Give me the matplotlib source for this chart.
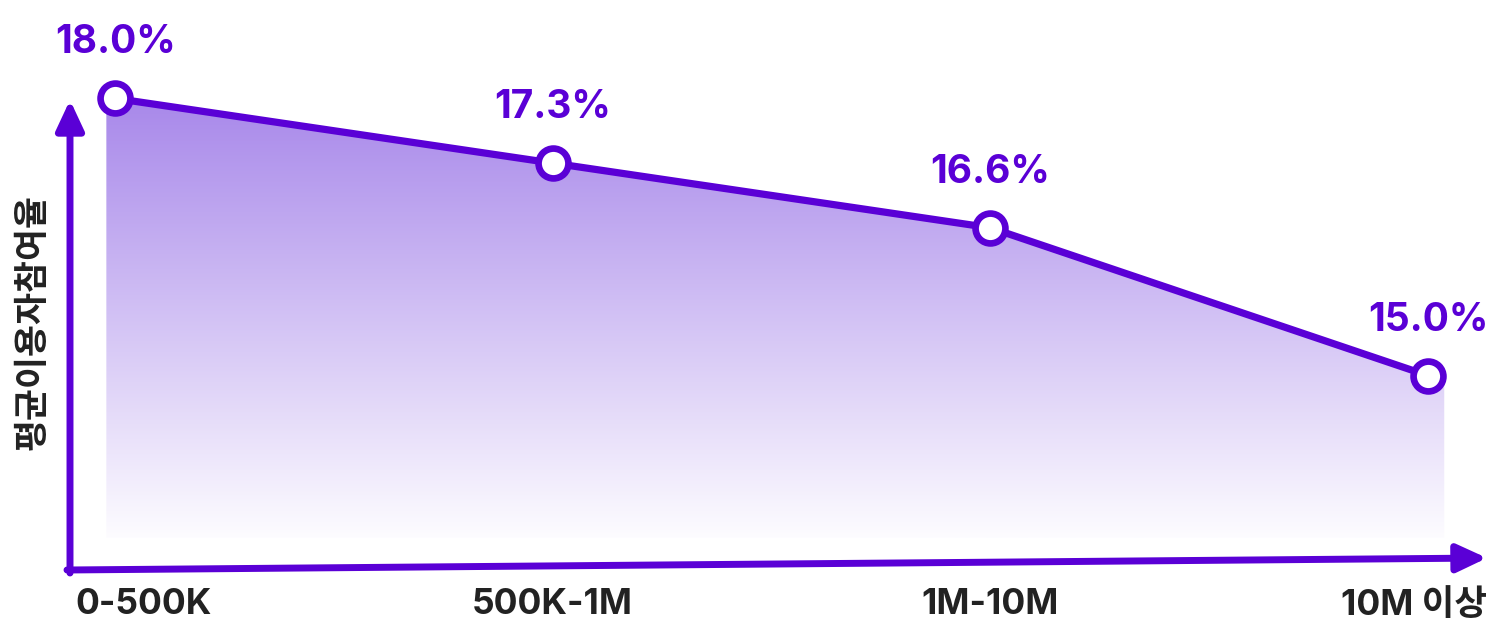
import numpy as np
import matplotlib
matplotlib.use('Agg')
import matplotlib.pyplot as plt
from matplotlib.patches import Polygon
from matplotlib.colors import LinearSegmentedColormap

plt.rcParams['font.family'] = ['Inter', 'Noto Sans CJK KR', 'DejaVu Sans']

categories = ['0-500K', '500K-1M', '1M-10M', '10M 이상']
rates = [18.0, 17.3, 16.6, 15.0]
value_labels = ['18.0%', '17.3%', '16.6%', '15.0%']
ylabel = '평균이용자참여율'

purple = '#5a00d6'
W, H = 1488, 626

fig = plt.figure(figsize=(W / 100, H / 100), dpi=100)
ax = fig.add_axes([0, 0, 1, 1])
ax.axis('off')

x = np.arange(len(rates))
base = 13.24

# gradient area under the line
verts = [(x[0] - 0.02, base), (x[0] - 0.02, rates[0])] + list(zip(x, rates)) + \
        [(x[-1] + 0.037, rates[-1]), (x[-1] + 0.037, base)]
poly = Polygon(verts, closed=True, facecolor='none', edgecolor='none')
ax.add_patch(poly)
grad = np.linspace(0, 1, 256).reshape(-1, 1)
cmap = LinearSegmentedColormap.from_list('g', ['#fdfcff', '#a888ea'])
im = ax.imshow(grad, cmap=cmap, origin='lower', aspect='auto', zorder=1,
               extent=[x[0] - 0.03, x[-1] + 0.05, base, max(rates)])
im.set_clip_path(poly)

ax.plot(x, rates, color=purple, lw=5.2, zorder=3, solid_capstyle='round')
ax.plot(x, rates, 'o', ms=21.5, mfc='white', mec=purple, mew=4.8, zorder=4)

for xi, r, lab in zip(x, rates, value_labels):
    ax.annotate(lab, (xi, r), xytext=(0, 40), textcoords='offset points',
                ha='center', va='center', fontsize=28, fontweight='bold', color=purple)

ax.set_xlim(-0.263, 3.137)
ax.set_ylim(12.29, 19.065)

# category labels under the x arrow (first and last kept inside the figure)
tick_y = 1 - 605 / H
for i, c in enumerate(categories):
    if i == 0:
        fig.text(75 / W, tick_y, c, ha='left', va='center', fontsize=25.5,
                 fontweight='bold', color='#222222')
    elif i == len(categories) - 1:
        fig.text(1487 / W, tick_y, c, ha='right', va='center', fontsize=25.5,
                 fontweight='bold', color='#222222')
    else:
        ax.text(x[i], tick_y, c, transform=ax.get_xaxis_transform(), ha='center',
                va='center', fontsize=25.5, fontweight='bold', color='#222222')

# axis arrows
arrow = dict(arrowstyle='-|>,head_length=0.9,head_width=0.42', color=purple, lw=5,
             shrinkA=0, shrinkB=0, mutation_scale=20)
ax.annotate('', xy=(70 / W, 1 - 100 / H), xytext=(70 / W, 1 - 573 / H),
            xycoords='figure fraction', textcoords='figure fraction', arrowprops=arrow)
ax.annotate('', xy=(1487 / W, 1 - 558 / H), xytext=(67 / W, 1 - 570 / H),
            xycoords='figure fraction', textcoords='figure fraction', arrowprops=arrow)

fig.text(32 / W, 1 - 322 / H, ylabel, rotation=90, ha='center', va='center',
         fontsize=25, fontweight='bold', color='#222222', family='Noto Sans CJK KR')

fig.savefig('out.png', dpi=100)
